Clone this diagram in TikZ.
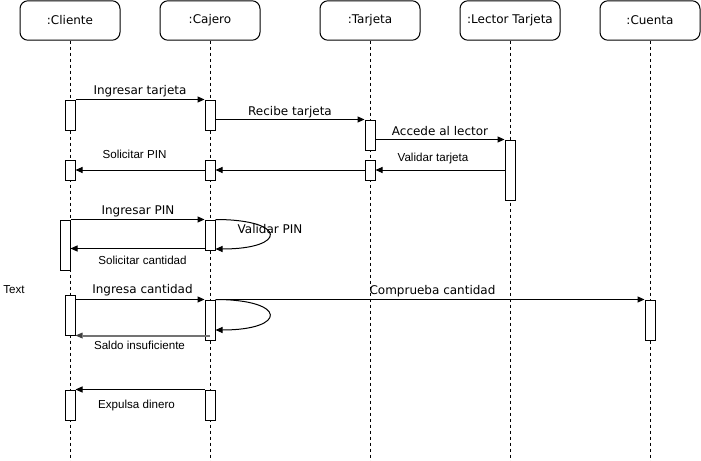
\documentclass[tikz,border=0pt]{standalone}
\usepackage{fontspec}
\setmainfont{DejaVu Sans}
\newfontfamily\arialf{Liberation Sans}
\usetikzlibrary{arrows.meta,calc}
\begin{document}
\begin{tikzpicture}[x=0.75pt,y=-0.75pt,
  head/.style={draw, rounded corners=6pt, minimum width=75pt, minimum height=29.6pt, inner sep=0, font=\fontsize{9}{10}\selectfont, line width=0.75pt},
  life/.style={dash pattern=on 2.25pt off 2.25pt, line width=0.75pt},
  act/.style={draw, fill=white, minimum width=7.5pt, minimum height=#1, inner sep=0, line width=0.75pt},
  msg/.style={-{Triangle[length=5.25pt,width=4.5pt]}, line width=0.75pt},
  graymsg/.style={-{Triangle[length=5.25pt,width=4.5pt,line width=0pt,color=black!75,fill=black!75]}, line width=1.5pt, color=black!55},
  lblw/.style={font=\fontsize{9}{10}\selectfont, inner sep=0},
  lbln/.style={font=\arialf\fontsize{8.7}{10}\selectfont, inner sep=0}]
\useasboundingbox (0,0) rectangle (701,461);
% heads
\node[head] (hC) at (70,20.5) {:Cliente};
\node[head] (hJ) at (210,20.5) {:Cajero};
\node[head] (hT) at (370,20.5) {:Tarjeta};
\node[head] (hL) at (510,20.5) {:Lector Tarjeta};
\node[head] (hU) at (650,20.5) {:Cuenta};
% lifelines
\coordinate (eC) at (70,461);
\coordinate (eJ) at (210,461);
\coordinate (eT) at (370,461);
\coordinate (eL) at (510,461);
\coordinate (eU) at (650,461);
\draw[life] (hC.south) -- (eC);
\draw[life] (hJ.south) -- (eJ);
\draw[life] (hT.south) -- (eT);
\draw[life] (hL.south) -- (eL);
\draw[life] (hU.south) -- (eU);
% activations
\node[act=22.5pt] (A1) at (70,115) {};
\node[act=22.5pt] (A2) at (210,115) {};
\node[act=22.5pt] (A3) at (370,135) {};
\node[act=45pt] (A4) at (510,170) {};
\node[act=15pt] (A5) at (70,170) {};
\node[act=15pt] (A6) at (210,170) {};
\node[act=15pt] (A7) at (370,170) {};
\node[act=37.5pt] (A8) at (65,245) {};
\node[act=22.5pt] (A9) at (210,235) {};
\node[act=30pt] (A10) at (70,315) {};
\node[act=30pt] (A11) at (210,320) {};
\node[act=30pt] (A12) at (650,320) {};
\node[act=22.5pt] (A13) at (70,405) {};
\node[act=22.5pt] (A14) at (210,405) {};
% messages
\draw[msg] (A1.north east) -- (A2.north west);
\draw[msg] (A2.east |- A3.north) -- (A3.north west);
\draw[msg] (A3.east |- A4.north) -- (A4.north west);
\draw[msg] (A4.west |- A7.west) -- (A7.east);
\draw[msg] (A7.west) -- (A6.east);
\draw[msg] (A6.west) -- (A5.east);
\draw[msg] (A8.north east) -- (A9.north west);
\draw[msg] (A9.north east) .. controls +(72,0) and +(72,0) .. ($(A9.south east)+(0,-1.5)$);
\draw[msg] ($(A9.south west)+(0,-2)$) coordinate (s1) -- (s1 -| A8.east);
\draw[msg] (A10.east |- A11.north) -- (A11.north west);
\draw[msg] (A11.north east) -- (A12.north west);
\draw[msg] (A11.north east) .. controls +(72,0) and +(72,0) .. ($(A11.north east)+(0,30.5)$);
\draw[graymsg] (A11 |- A10.south east) -- (A10.south east);
\draw[msg] (A14.north west) -- (A13.north east);
% labels
\node[lblw] (l1) at (140,91.5) {Ingresar tarjeta};
\node[lblw] (l2) at (290,112) {Recibe tarjeta};
\node[lblw] (l3) at (440,131.5) {Accede al lector};
\node[lbln] (l4) at (433,158) {Validar tarjeta};
\node[lbln] (l5) at (134.5,154) {Solicitar PIN};
\node[lblw] (l6) at (138,211.5) {Ingresar PIN};
\node[lblw] (l7) at (270,229.5) {Validar PIN};
\node[lbln] (l8) at (142.5,260) {Solicitar cantidad};
\node[lbln] (l9) at (14,290) {Text};
\node[lblw] (l10) at (142.5,290.5) {Ingresa cantidad};
\node[lblw] (l11) at (432.5,291) {Comprueba cantidad};
\node[lbln] (l12) at (139.5,345) {Saldo insuficiente};
\node[lbln] (l13) at (136.5,405) {Expulsa dinero};
\end{tikzpicture}
\end{document}
